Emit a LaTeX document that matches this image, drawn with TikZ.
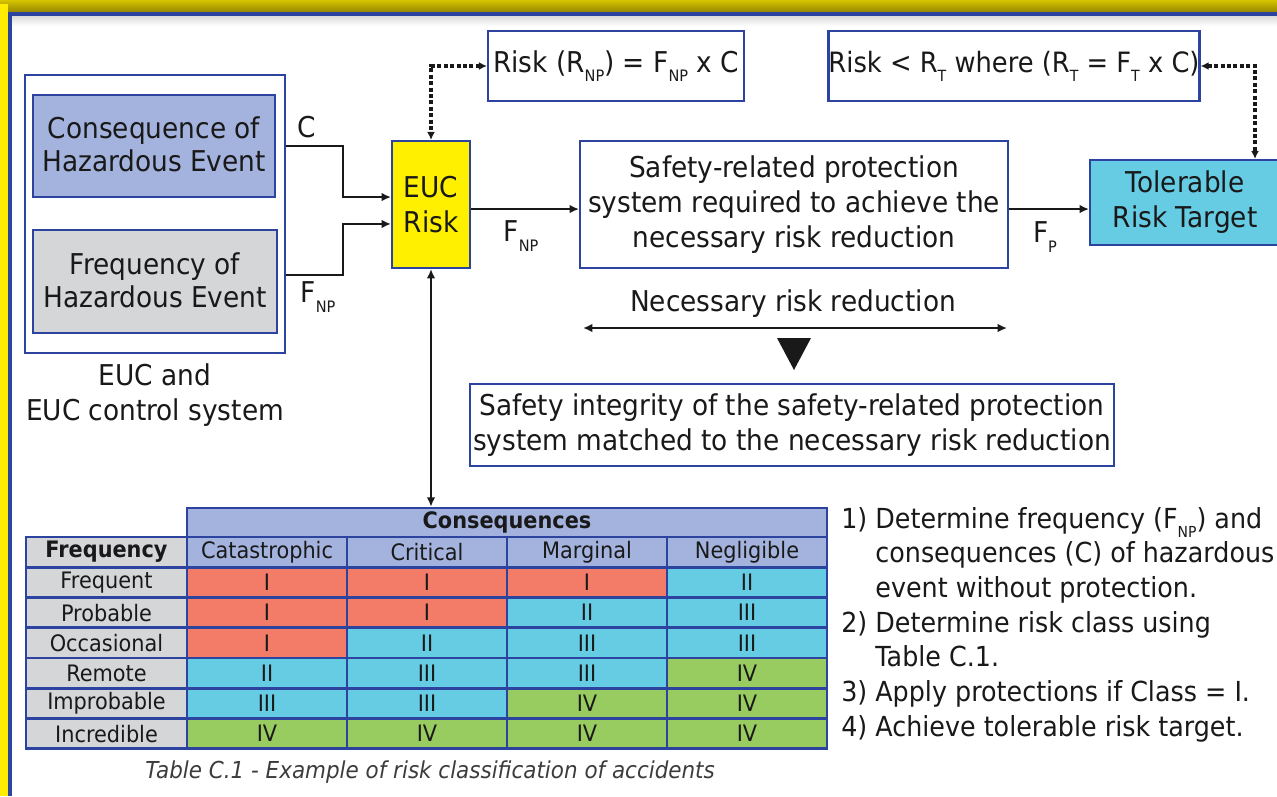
\documentclass[tikz,border=0pt]{standalone}
\usepackage{fontspec}
\setmainfont[FakeStretch=0.92]{DejaVu Sans}
\usepackage{graphicx}
\usetikzlibrary{arrows.meta}

\definecolor{frameblue}{RGB}{44,68,160}
\definecolor{lav}{RGB}{164,179,221}
\definecolor{greycell}{RGB}{213,214,216}
\definecolor{redcell}{RGB}{242,124,103}
\definecolor{cyancell}{RGB}{102,204,228}
\definecolor{greencell}{RGB}{153,204,96}
\definecolor{eucyellow}{RGB}{255,240,0}
\definecolor{ink}{RGB}{25,25,25}
\definecolor{capgray}{RGB}{60,60,60}
\definecolor{gold1}{RGB}{214,196,0}
\definecolor{gold2}{RGB}{150,136,0}
\definecolor{railyellow}{RGB}{255,236,0}

% lowered small index, as in R_NP
\newcommand\lowsub[1]{\raisebox{-0.6ex}{\scalebox{0.55}{#1}}}
\newcommand\bigtxt{\fontsize{21.5}{26.25}\selectfont}
\newcommand\listtxt{\fontsize{20.7}{26}\selectfont}
\newcommand\tabtxt{\fontsize{17}{20}\selectfont}
\newcommand\captxt{\fontsize{17.5}{20}\selectfont}

\begin{document}
\begin{tikzpicture}[x=0.75pt,y=-0.75pt,
  wh/.style 2 args={minimum width=#1*0.75pt, minimum height=#2*0.75pt},
  box/.style={draw=frameblue, line width=1.6pt, inner sep=0pt, align=center,
              font=\bigtxt, text=ink},
  lbl/.style={inner sep=0pt, font=\bigtxt, text=ink, align=center},
  conn/.style={draw=ink, line width=1.4pt, -{Latex[length=7pt,width=6.5pt]}},
  dual/.style={draw=ink, line width=1.4pt, {Latex[length=7pt,width=6.5pt]}-{Latex[length=7pt,width=6.5pt]}},
  dotlink/.style={draw=ink, line width=2.4pt, dash pattern=on 3pt off 1.8pt,
              {Latex[length=6pt,width=6pt]}-{Latex[length=6pt,width=6pt]}},
  cell/.style={draw=frameblue, line width=2pt, inner sep=0pt, font=\tabtxt,
               text=ink, wh={160}{30.25}},
]
\useasboundingbox (0,0) rectangle (1277,796);
\clip (0,0) rectangle (1277,796);
\fill[white] (0,0) rectangle (1277,796);

% slide frame
\shade[top color=gold1, bottom color=gold2] (0,0) rectangle (1277,12);
\fill[railyellow] (0,4) rectangle (8,796);
\shade[top color=black!14, bottom color=white] (12,16) rectangle (1277,26);
\fill[frameblue] (8,12) rectangle (1277,16);
\fill[frameblue] (8,12) rectangle (12,796);

% EUC and its control system
\node[box, wh={260}{278}] (outer) at (155,214) {};
\node[box, fill=lav, wh={242}{102}] (cons) at (154,146) {\raisebox{3pt}{\shortstack{Consequence of\\[1pt]Hazardous Event}}};
\node[box, fill=greycell, wh={244}{103}] (freq) at (155,281.5) {\raisebox{2pt}{\shortstack{Frequency of\\[1pt]Hazardous Event}}};
\node[lbl] (euclbl) at (155,395) {EUC and\\EUC control system};

\node[box, fill=eucyellow, wh={78}{127}] (euc) at (431,204.5) {EUC\\Risk};
\node[box, wh={256}{70}] (rnp) at (616,66) {Risk (R\lowsub{NP}) = F\lowsub{NP} x C};
\node[box, wh={428}{127}] (srs) at (794,204.5)
  {Safety-related protection\\system required to achieve the\\necessary risk reduction};
\node[box, fill=cyancell, wh={190}{85}] (tol) at (1185,202.5) {Tolerable\\Risk Target};
\node[box, wh={368}{70}, font=\fontsize{21}{26}\selectfont] (rt) at (1014,66) {Risk < R\lowsub{T} where (R\lowsub{T} = F\lowsub{T} x C)};
\node[box, wh={644}{82}] (sil) at (792,425)
  {Safety integrity of the safety-related protection\\system matched to the necessary risk reduction};

% flow labels
\node[lbl] (lc) at (307,127) {C};
\node[lbl] (lfin) at (318,297) {F\lowsub{NP}};
\node[lbl] (lfnp) at (521,236) {F\lowsub{NP}};
\node[lbl] (lfp) at (1045,237) {F\lowsub{P}};
\node[lbl] (nrr) at (793,304) {Necessary risk reduction};

% connectors
\draw[conn] (outer.east |- cons.east) -- ++(57,0) |- ([yshift=5.6pt]euc.west);
\draw[conn] ([yshift=4.9pt]outer.east |- freq.east) -- ++(57,0) |- ([yshift=-14.6pt]euc.west);
\draw[conn] ([yshift=-3.4pt]euc.east) -- ([yshift=-3.4pt]srs.west);
\draw[conn] ([yshift=-3.4pt]srs.east) -- ([yshift=-3.4pt]srs.east -| tol.west);
\draw[dotlink] (rnp.west) -| (euc.north);
\draw[dotlink] (rt.east) -| ([xshift=52.5pt]tol.north);

\coordinate (nrL) at (583,328);
\coordinate (nrR) at (1007,328);
\draw[dual] (nrL) -- (nrR);
\fill[ink] (777,338) -- (811,338) -- (794,370) -- cycle;

% risk classification table
\node[cell, fill=lav, wh={640}{29}, font=\tabtxt\bfseries] (hdr) at (507,522.5) {Consequences};
\node[cell, fill=greycell, wh={161}{30.25}, font=\tabtxt\bfseries] (fhdr) at (106.5,552.1) {Frequency};
\foreach \c [count=\k] in {Catastrophic,Critical,Marginal,Negligible}
  \node[cell, fill=lav] (ch\k) at (107+160*\k,552.1) {\c};
\foreach \lab/\cells [count=\r] in {
    Frequent/{I/redcell,I/redcell,I/redcell,II/cyancell},
    Probable/{I/redcell,I/redcell,II/cyancell,III/cyancell},
    Occasional/{I/redcell,II/cyancell,III/cyancell,III/cyancell},
    Remote/{II/cyancell,III/cyancell,III/cyancell,IV/greencell},
    Improbable/{III/cyancell,III/cyancell,IV/greencell,IV/greencell},
    Incredible/{IV/greencell,IV/greencell,IV/greencell,IV/greencell}} {
  \node[cell, fill=greycell, wh={161}{30.25}] (rl\r) at (106.5,552.1+30.25*\r) {\lab};
  \foreach \v/\col [count=\k] in \cells
    \node[cell, fill=\col] (c\r-\k) at (107+160*\k,552.1+30.25*\r) {\v};
}
\node[font=\captxt\itshape, text=capgray, inner sep=0pt] (cap) at (430,772)
  {Table C.1 - Example of risk classification of accidents};

% EUC risk is read from the table
\draw[dual] (euc.south) -- (euc.south |- hdr.north);

% procedure steps
\node[anchor=north west, align=left, font=\listtxt, text=ink, inner sep=0pt] (steps) at (841,507)
  {1) Determine frequency (F\lowsub{NP}) and\\
   \phantom{1) }consequences (C) of hazardous\\
   \phantom{1) }event without protection.\\
   2) Determine risk class using\\
   \phantom{2) }Table C.1.\\
   3) Apply protections if Class = I.\\
   4) Achieve tolerable risk target.};
\end{tikzpicture}
\end{document}
